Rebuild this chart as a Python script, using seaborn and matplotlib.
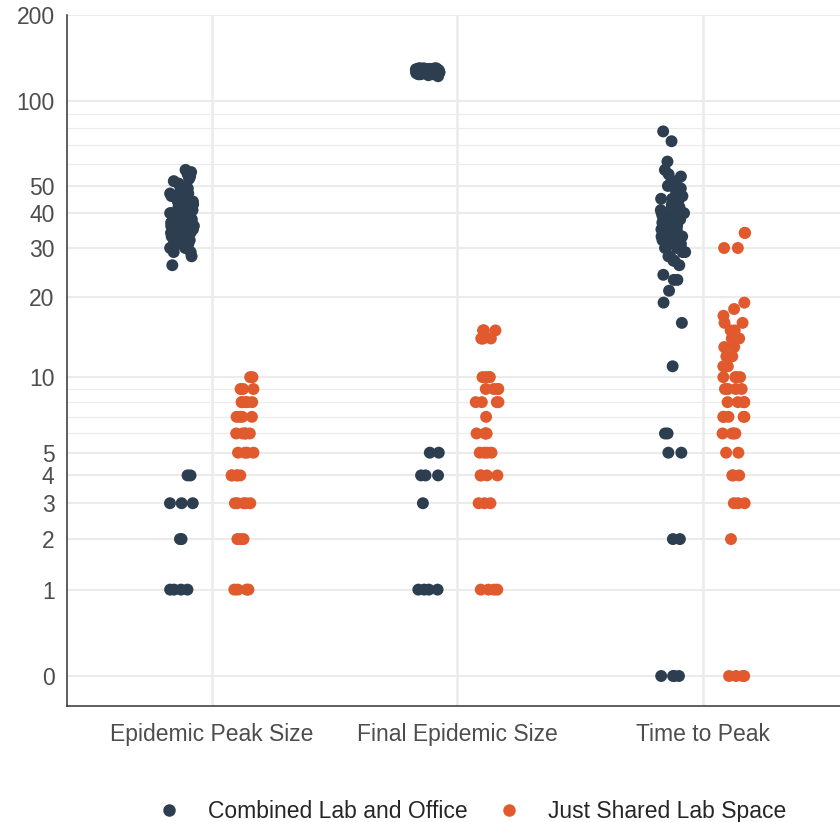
import numpy as np
import pandas as pd
import matplotlib
matplotlib.use("Agg")
import matplotlib.pyplot as plt
from matplotlib.lines import Line2D
import seaborn as sns

metrics = ["Epidemic Peak Size", "Final Epidemic Size", "Time to Peak"]
groups = ["Combined Lab and Office", "Just Shared Lab Space"]
colors = ["#2C3E50", "#E05A2E"]

peak_combined = [1, 1, 1, 1, 2, 2, 3, 3, 3, 4, 4,
                 26, 28, 29, 29, 30, 30, 30, 31, 31, 31, 32, 32, 32, 33, 33, 33, 33,
                 34, 34, 34, 34, 35, 35, 35, 35, 36, 36, 36, 36, 36, 37, 37, 37, 37,
                 38, 38, 38, 38, 38, 39, 39, 39, 39, 40, 40, 40, 40, 40, 41, 41, 41,
                 41, 42, 42, 42, 42, 43, 43, 43, 44, 44, 44, 45, 45, 45, 46, 46, 47,
                 47, 48, 48, 49, 50, 51, 52, 53, 54, 55, 56, 57]
peak_lab = [1, 1, 1, 1, 2, 2, 2, 3, 3, 3, 3, 3, 4, 4, 4, 4, 4, 5, 5, 5, 5,
            6, 6, 6, 6, 6, 7, 7, 7, 7, 8, 8, 8, 8, 8, 9, 9, 9, 10, 10]
final_combined = [1, 1, 1, 1, 3, 4, 4, 4, 5, 5,
                  122, 123, 124, 124, 124, 124, 124, 124, 125, 125, 125, 125, 125,
                  125, 125, 125, 126, 126, 126, 126, 126, 126, 126, 126, 126, 126,
                  126, 126, 127, 127, 127, 127, 127, 127, 127, 127, 127, 127, 127,
                  127, 127, 127, 127, 128, 128, 128, 128, 128, 128, 128, 128, 128,
                  128, 128, 128, 128, 129, 129, 129, 129, 129, 129, 129, 129, 129,
                  129, 129, 130, 130, 130, 130, 130]
final_lab = [1, 1, 1, 1, 3, 3, 3, 4, 4, 4, 4, 5, 5, 5, 5, 6, 6, 6, 6, 7,
             8, 8, 8, 8, 9, 9, 9, 9, 10, 10, 10, 10, 14, 14, 14, 14, 15, 15, 15, 15]
ttp_combined = [0, 0, 0, 0, 2, 2, 5, 5, 6, 6, 11, 16, 19, 21, 23, 23, 24, 26,
                 27, 27, 28, 28, 29, 29, 30, 30, 30, 31, 31, 31, 32, 32, 32, 33,
                 33, 33, 33, 34, 34, 34, 35, 35, 35, 35, 36, 36, 36, 37, 37, 37,
                 38, 38, 38, 38, 39, 39, 39, 40, 40, 40, 41, 41, 42, 42, 43, 43,
                 44, 44, 45, 45, 46, 46, 47, 48, 49, 50, 51, 52, 54, 55, 57,
                 61, 72, 78]
ttp_lab = [0, 0, 0, 0, 2, 3, 3, 3, 4, 4, 4, 5, 5, 6, 6, 6, 6, 7, 7, 7, 7, 7,
           8, 8, 8, 8, 8, 9, 9, 9, 9, 10, 10, 10, 10, 11, 11, 11, 12, 12, 12,
           13, 13, 14, 14, 15, 15, 16, 16, 17, 18, 19, 30, 30, 34, 34]

y_ticks = [0, 1, 2, 3, 4, 5, 10, 20, 30, 40, 50, 100, 200]
y_minor = [6, 7, 8, 9, 60, 70, 80, 90]

series = {
    (metrics[0], groups[0]): peak_combined,
    (metrics[0], groups[1]): peak_lab,
    (metrics[1], groups[0]): final_combined,
    (metrics[1], groups[1]): final_lab,
    (metrics[2], groups[0]): ttp_combined,
    (metrics[2], groups[1]): ttp_lab,
}
rows = []
for (m, g), vals in series.items():
    for v in vals:
        rows.append({"metric": m, "group": g, "value": v})
df = pd.DataFrame(rows)

sns.set_theme(style="white")
plt.rcParams['font.family'] = ['Liberation Sans', 'DejaVu Sans']

fig = plt.figure(figsize=(8.4, 8.22), dpi=100)
ax = fig.add_axes([67 / 840, 116 / 822, 1 - 67 / 840, (706 - 15) / 822])

np.random.seed(11)
sns.stripplot(data=df, x="metric", y="value", hue="group", order=metrics,
              hue_order=groups, palette=colors, dodge=True, jitter=0.1,
              size=8.6, linewidth=0, alpha=1, legend=False, ax=ax, zorder=3)

# narrow the dodge distance (seaborn uses +/-0.2)
dodge_target = 0.122
for coll in ax.collections:
    off = np.asarray(coll.get_offsets()).copy()
    if len(off) == 0:
        continue
    x = off[:, 0]
    cat = np.round(x)
    rel = x - cat
    side = np.sign(rel)
    off[:, 0] = cat + rel - side * (0.2 - dodge_target)
    coll.set_offsets(off)

def fwd(y):
    y = np.asarray(y, dtype=float)
    return np.log10(np.clip(y + 1, 1e-6, None))

def inv(y):
    return 10 ** np.asarray(y, dtype=float) - 1

ax.set_yscale('function', functions=(fwd, inv))
ax.set_ylim(inv(-0.1045), 200)
ax.set_xlim(-0.59, 2.558)

ax.set_yticks(y_ticks)
ax.set_yticklabels([str(t) for t in y_ticks])
ax.set_yticks(y_minor, minor=True)
ax.tick_params(axis='y', which='minor', length=0)
ax.tick_params(axis='both', which='major', length=5, width=1.1, color='#333333',
               labelsize=16.5, labelcolor='#4D4D4D')
ax.tick_params(axis='x', which='major', pad=7)
ax.tick_params(axis='y', which='major', pad=4)

ax.grid(axis='y', which='major', color='#EBEBEB', lw=1.5)
ax.grid(axis='y', which='minor', color='#EBEBEB', lw=0.8)
ax.grid(axis='x', which='major', color='#EBEBEB', lw=1.8)
ax.set_axisbelow(True)

for s in ['top', 'right']:
    ax.spines[s].set_visible(False)
for s in ['left', 'bottom']:
    ax.spines[s].set_color('#333333')
    ax.spines[s].set_linewidth(1.1)

ax.set_xlabel("")
ax.set_ylabel("")

handles = [Line2D([], [], marker='o', ls='none', color=c, markersize=9, markeredgewidth=0)
           for c in colors]
fig.legend(handles, groups, loc='center', bbox_to_anchor=(0.562, 0.0125), ncol=2,
           frameon=False, fontsize=16.5, handlelength=1.0, handletextpad=1.2,
           columnspacing=1.3, borderpad=0)

fig.savefig("out.png", dpi=100)
